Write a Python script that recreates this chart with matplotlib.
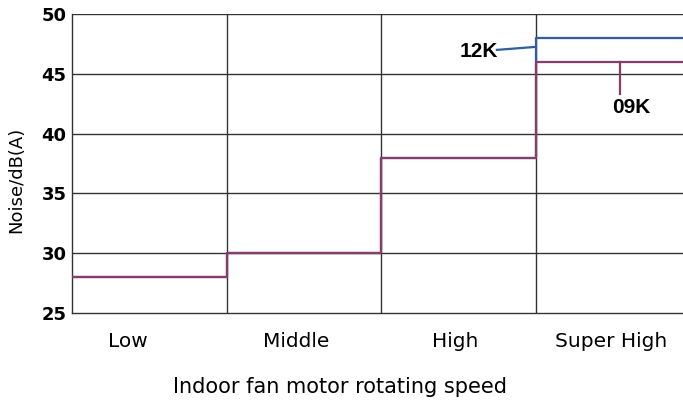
import matplotlib
matplotlib.use("Agg")
import matplotlib.pyplot as plt

categories = ["Low", "Middle", "High", "Super High"]
noise_12k = [28, 30, 38, 48]
noise_09k = [28, 30, 38, 46]
yticks = [25, 30, 35, 40, 45, 50]

plt.rcParams['font.family'] = ['DejaVu Sans']

fig = plt.figure(figsize=(6.83, 4.05), dpi=100)
W, H = 683, 405
left, right, top, bottom = 72, 683, 14, 313
ax = fig.add_axes([left / W, 1 - bottom / H, (right - left) / W, (bottom - top) / H])

seg = 154.5
xmax = (right - left) / seg
ax.set_xlim(0, xmax)
ax.set_ylim(25, 50)

grid_c = '#333333'
for y in yticks[1:]:
    ax.axhline(y, color=grid_c, lw=1.0, zorder=1)
for i in range(1, len(categories)):
    ax.axvline(i, color=grid_c, lw=1.0, zorder=1)

def steps(vals):
    xs, ys = [], []
    for i, v in enumerate(vals):
        x0 = i
        x1 = i + 1 if i < len(vals) - 1 else xmax + 0.1
        xs += [x0, x1]
        ys += [v, v]
    return xs, ys

blue = '#2c5cb0'
purple = '#8c3a6c'
x12, y12 = steps(noise_12k)
x09, y09 = steps(noise_09k)
ax.plot(x12, y12, color=blue, lw=1.6, zorder=3)
ax.plot(x09, y09, color=purple, lw=1.6, zorder=4)

for s in ['top', 'right']:
    ax.spines[s].set_visible(False)
for s in ['left', 'bottom']:
    ax.spines[s].set_color(grid_c)
    ax.spines[s].set_linewidth(1.0)

ax.set_yticks(yticks)
ax.set_yticklabels([str(v) for v in yticks], fontsize=13, fontweight='bold')
label_pos = [(128 - left) / seg, (296 - left) / seg, (455 - left) / seg, (611 - left) / seg]
ax.set_xticks(label_pos)
ax.set_xticklabels(categories, fontsize=14.5)
ax.tick_params(axis='both', length=0)
ax.tick_params(axis='x', pad=14)
ax.tick_params(axis='y', pad=4)

ax.set_ylabel('Noise/dB(A)', fontsize=13, va='center')
ax.yaxis.set_label_coords((16 - left) / (right - left), (bottom - 180) / (bottom - top))
ax.set_xlabel('Indoor fan motor rotating speed', fontsize=15, va='center')
ax.xaxis.set_label_coords((340 - left) / (right - left), -(387 - bottom) / (bottom - top))

# annotations
ax.plot([2.75, 3.0], [47.0, 47.25], color=blue, lw=1.6, zorder=3)
ax.text(2.63, 46.9, '12K', fontsize=15, fontweight='bold', ha='center', va='center',
        family='Liberation Sans')
ax.plot([3.547, 3.547], [46.0, 43.3], color=purple, lw=1.6, zorder=4)
ax.text(3.62, 42.2, '09K', fontsize=15, fontweight='bold', ha='center', va='center',
        family='Liberation Sans')

fig.savefig('out.png', dpi=100)
